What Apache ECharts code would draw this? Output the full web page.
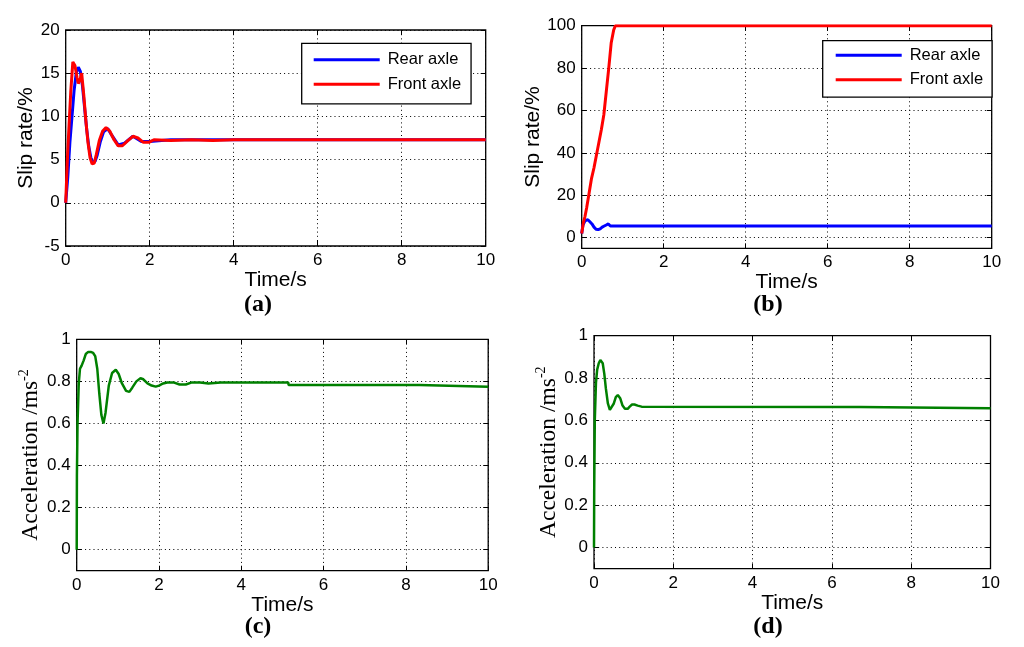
<!DOCTYPE html>
<html><head><meta charset="utf-8">
<script src="https://cdn.jsdelivr.net/npm/echarts@6/dist/echarts.min.js"></script>
<style>html,body{margin:0;padding:0;background:#fff}#c{width:1024px;height:647px}</style>
</head><body><div id="c"></div>
<script>
// ---- Data ----
const xTicks = [0, 2, 4, 6, 8, 10];
const yTicksA = [-5, 0, 5, 10, 15, 20];
const yTicksB = [0, 20, 40, 60, 80, 100];
const yTicksAcc = [0, 0.2, 0.4, 0.6, 0.8, 1];
const legendNames = ['Rear axle', 'Front axle'];
const panelLabels = ['(a)', '(b)', '(c)', '(d)'];

// (a) slip rate, both axles controlled
const aRearT  = [0, 0.05, 0.1, 0.15, 0.2, 0.25, 0.3, 0.35, 0.4, 0.45, 0.5, 0.55, 0.6, 0.65, 0.7, 0.75, 0.82, 0.9, 1.0, 1.1, 1.25, 1.4, 1.6, 1.8, 2.0, 2.5, 10];
const aRearV  = [0, 3, 7, 10, 13, 15, 15.7, 15.2, 13.5, 11, 8.5, 6.5, 5.2, 4.7, 4.8, 5.5, 7, 8.2, 8.6, 7.8, 6.7, 6.9, 7.7, 7.1, 7.1, 7.3, 7.3];
const aFrontT = [0, 0.04, 0.08, 0.12, 0.17, 0.22, 0.27, 0.3, 0.34, 0.38, 0.43, 0.48, 0.53, 0.58, 0.63, 0.68, 0.73, 0.8, 0.88, 0.96, 1.05, 1.15, 1.25, 1.35, 1.48, 1.6, 1.72, 1.85, 1.98, 2.1, 2.5, 3.0, 3.5, 4.0, 10];
const aFrontV = [0, 5, 9, 12.8, 16.3, 15.9, 14.5, 13.8, 14.2, 15, 12.5, 9.5, 7, 5.2, 4.5, 4.6, 5.6, 7.2, 8.3, 8.7, 8.3, 7.3, 6.6, 6.6, 7.2, 7.7, 7.5, 7.0, 7.0, 7.3, 7.2, 7.3, 7.2, 7.3, 7.3];

// (b) slip rate, front axle locks
const bRearT  = [0, 0.03, 0.08, 0.15, 0.2, 0.25, 0.3, 0.35, 0.4, 0.45, 0.5, 0.55, 0.6, 0.65, 0.7, 10];
const bRearV  = [2, 6, 8, 8.5, 7.5, 6.5, 5, 4, 3.8, 4.2, 5, 5.5, 6, 6.5, 5.5, 5.5];
const bFrontT = [0, 0.04, 0.08, 0.12, 0.18, 0.24, 0.3, 0.36, 0.42, 0.48, 0.54, 0.6, 0.66, 0.72, 0.78, 0.82, 10];
const bFrontV = [2, 7, 10, 14, 21, 28, 33, 39, 45, 51, 58, 69, 80, 92, 98, 100, 100];

// (c) acceleration
const cT = [0, 0.005, 0.02, 0.05, 0.08, 0.12, 0.17, 0.22, 0.28, 0.34, 0.4, 0.45, 0.5, 0.55, 0.6, 0.65, 0.7, 0.78, 0.86, 0.95, 1.02, 1.1, 1.2, 1.28, 1.35, 1.45, 1.55, 1.62, 1.72, 1.82, 1.92, 2.0, 2.1, 2.2, 2.35, 2.5, 2.65, 2.8, 3.0, 3.2, 3.5, 4.0, 4.5, 5.14, 5.15, 8.33, 8.34, 10];
const cV = [0, 0.35, 0.6, 0.79, 0.86, 0.875, 0.9, 0.93, 0.94, 0.94, 0.935, 0.92, 0.86, 0.74, 0.64, 0.6, 0.65, 0.78, 0.84, 0.855, 0.835, 0.79, 0.755, 0.75, 0.77, 0.8, 0.815, 0.81, 0.79, 0.78, 0.775, 0.78, 0.79, 0.795, 0.795, 0.785, 0.785, 0.795, 0.795, 0.79, 0.795, 0.795, 0.795, 0.795, 0.783, 0.783, 0.774, 0.774];

// (d) acceleration
const dT = [0, 0.005, 0.02, 0.05, 0.08, 0.12, 0.16, 0.19, 0.22, 0.26, 0.3, 0.35, 0.4, 0.45, 0.5, 0.55, 0.6, 0.66, 0.72, 0.78, 0.85, 0.9, 0.96, 1.02, 1.1, 1.2, 6.7, 6.71, 10];
const dV = [0, 0.26, 0.6, 0.78, 0.84, 0.87, 0.885, 0.89, 0.87, 0.82, 0.75, 0.68, 0.65, 0.655, 0.68, 0.71, 0.72, 0.705, 0.67, 0.655, 0.655, 0.665, 0.675, 0.675, 0.67, 0.665, 0.663, 0.657, 0.657];

const slipA = {min: -5, max: 20, ticks: yTicksA};
const slipB = {min: -5, max: 100, ticks: yTicksB};
const accel = {min: -0.1, max: 1, ticks: yTicksAcc};

// ---- Build chart ----
const zip = (t, v) => t.map((x, i) => [x, v[i]]);
const SANS = 'Liberation Sans, Arial, sans-serif';
const SERIF = 'Liberation Serif, Times New Roman, serif';

const grids = [
  {left: 65.7, top: 30, width: 420, height: 216},
  {left: 581.7, top: 25.7, width: 410, height: 222.6},
  {left: 76.7, top: 339.3, width: 411.5, height: 231.4},
  {left: 594, top: 335.7, width: 396.5, height: 233}
].map(g => Object.assign({show: true, borderColor: '#000', borderWidth: 1.3, backgroundColor: '#fff'}, g));

const yRanges = [slipA, slipB, accel, accel];
const dotted = {color: '#000', width: 1, type: [1, 3.2]};
const tickStyle = {color: '#000', width: 1};

const xAxis = [], yAxis = [];
grids.forEach((g, i) => {
  xAxis.push({
    type: 'value', gridIndex: i, min: 0, max: 10, position: 'bottom',
    axisLine: {show: false, onZero: false},
    axisTick: {inside: true, length: 5, lineStyle: tickStyle, customValues: xTicks},
    axisLabel: {color: '#000', fontFamily: SANS, fontSize: 17, margin: 6, customValues: xTicks},
    splitLine: {show: true, lineStyle: dotted},
    name: 'Time/s', nameLocation: 'middle', nameGap: 20,
    nameTextStyle: {color: '#000', fontFamily: SANS, fontSize: 21}
  });
  xAxis.push({
    type: 'value', gridIndex: i, min: 0, max: 10, position: 'top',
    axisLine: {show: false, onZero: false},
    axisTick: {inside: true, length: 5, lineStyle: tickStyle, customValues: xTicks},
    axisLabel: {show: false}, splitLine: {show: false}
  });
  const r = yRanges[i];
  const isAcc = i >= 2;
  const yName = isAcc ? '{a|Acceleration /ms}{s|-2}' : 'Slip rate/%';
  yAxis.push({
    type: 'value', gridIndex: i, min: r.min, max: r.max, position: 'left',
    axisLine: {show: false, onZero: false},
    axisTick: {inside: true, length: 5, lineStyle: tickStyle, customValues: r.ticks},
    axisLabel: {color: '#000', fontFamily: SANS, fontSize: 17, margin: 6, customValues: r.ticks},
    splitLine: {show: true, lineStyle: dotted},
    name: yName, nameLocation: 'middle', nameGap: isAcc ? 31 : 26,
    nameTextStyle: isAcc ? {
      color: '#000',
      rich: {
        a: {fontFamily: SERIF, fontSize: 23.5, color: '#000', lineHeight: 26, verticalAlign: 'bottom'},
        s: {fontFamily: SERIF, fontSize: 14, color: '#000', lineHeight: 26, verticalAlign: 'top'}
      }
    } : {color: '#000', fontFamily: SANS, fontSize: 21}
  });
  yAxis.push({
    type: 'value', gridIndex: i, min: r.min, max: r.max, position: 'right',
    axisLine: {show: false, onZero: false},
    axisTick: {inside: true, length: 5, lineStyle: tickStyle, customValues: r.ticks},
    axisLabel: {show: false}, splitLine: {show: false}
  });
});

const line = (name, data, gi, color, w) => ({
  name, type: 'line', data, xAxisIndex: gi * 2, yAxisIndex: gi * 2,
  showSymbol: false, symbol: 'none', lineStyle: {color, width: w}, itemStyle: {color},
  animation: false, silent: true, z: 3
});

const series = [
  line(legendNames[0], zip(aRearT, aRearV), 0, '#0000ff', 3),
  line(legendNames[1], zip(aFrontT, aFrontV), 0, '#ff0000', 3),
  line(legendNames[0], zip(bRearT, bRearV), 1, '#0000ff', 3),
  line(legendNames[1], zip(bFrontT, bFrontV), 1, '#ff0000', 3),
  line('Acc c', zip(cT, cV), 2, '#008000', 2.5),
  line('Acc d', zip(dT, dV), 3, '#008000', 2.5)
];

const legendBase = {
  orient: 'vertical', backgroundColor: '#fff', borderColor: '#000', borderWidth: 1.3,
  itemWidth: 66, itemHeight: 3, itemGap: 7.5, icon: 'rect', selectedMode: false,
  textStyle: {color: '#000', fontFamily: SANS, fontSize: 16.5, padding: [0, 0, 0, 3]}
};
const legend = [
  Object.assign({}, legendBase, {data: legendNames, left: 301.7, top: 43.3, padding: [8, 10, 11, 12]}),
  Object.assign({}, legendBase, {data: legendNames, left: 822.7, top: 40.7, padding: [6, 9, 9, 13]})
];

const labelPos = [[258, 305], [768, 305], [258, 627], [768, 627]];
const graphic = panelLabels.map((t, i) => ({
  type: 'text', x: labelPos[i][0], y: labelPos[i][1], z: 10,
  style: {text: t, fontFamily: SERIF, fontWeight: 'bold', fontSize: 24, fill: '#000', align: 'center', verticalAlign: 'middle'}
}));

const chart = echarts.init(document.getElementById('c'), null, {renderer: 'canvas'});
chart.setOption({animation: false, backgroundColor: '#fff', grid: grids, xAxis, yAxis, series, legend, graphic});
</script></body></html>
